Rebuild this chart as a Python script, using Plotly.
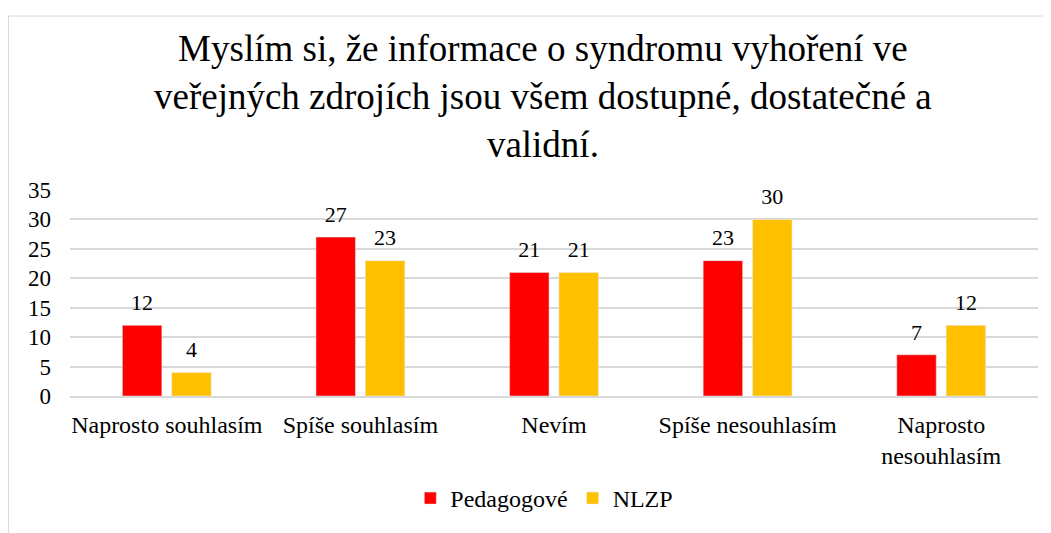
import plotly.graph_objects as go

categories = ["Naprosto souhlasím", "Spíše souhlasím", "Nevím", "Spíše nesouhlasím", "Naprosto<br>nesouhlasím"]
pedagogove = [12, 27, 21, 23, 7]
nlzp = [4, 23, 21, 30, 12]
y_ticks = [0, 5, 10, 15, 20, 25, 30, 35]
title_text = "Myslím si, že informace o syndromu vyhoření ve<br>veřejných zdrojích jsou všem dostupné, dostatečné a<br>validní."

FONT = "Times New Roman"
series = [("Pedagogové", pedagogove, "#FF0000"), ("NLZP", nlzp, "#FFC000")]

fig = go.Figure()
for name, vals, col in series:
    fig.add_trace(go.Bar(name=name, x=categories, y=vals, marker_color=col,
                         offsetgroup=name, showlegend=True))
for name, vals, col in series:
    # value labels: transparent marker pushes the text above the bar top
    fig.add_trace(go.Scatter(x=categories, y=vals, mode="markers+text", text=vals,
                             textposition="top center", offsetgroup=name,
                             marker=dict(size=14, color="rgba(0,0,0,0)"),
                             textfont=dict(family=FONT, size=22, color="#000000"),
                             cliponaxis=False, showlegend=False, hoverinfo="skip"))

# page has an 8px body margin: figure is drawn 8px right/down of the window origin
fig.update_layout(
    width=1043, height=525,
    margin=dict(l=62, r=13, t=182, b=134),
    paper_bgcolor="white", plot_bgcolor="white",
    font=dict(family=FONT, size=24, color="#000000"),
    barmode="group", bargap=0.49, bargroupgap=0.2,
    scattermode="group", scattergap=0.49,
    showlegend=True,
    legend=dict(orientation="h", x=0.49, xanchor="center", y=-0.4976, yanchor="middle",
                font=dict(family=FONT, size=24, color="#000000"), itemwidth=30,
                traceorder="normal"),
    xaxis=dict(showgrid=False, showline=True, linecolor="#D9D9D9", linewidth=1.5,
               ticks="", tickfont=dict(family=FONT, size=24, color="#000000"),
               automargin=False, ticklabelstandoff=6),
    yaxis=dict(range=[0, 35], tickvals=y_ticks, showgrid=True, gridcolor="#D9D9D9",
               gridwidth=1.5, zeroline=False, showline=False, ticks="",
               tickfont=dict(family=FONT, size=23, color="#000000"),
               automargin=False, ticklabelstandoff=18),
    shapes=[dict(type="rect", xref="paper", yref="paper",
                 x0=-0.0635, x1=1.1, y0=-0.7, y1=1.8445,
                 line=dict(color="#D9D9D9", width=1), fillcolor="rgba(0,0,0,0)", layer="below")],
)
fig.add_annotation(text=title_text, xref="paper", yref="paper", x=0.4886, y=1.4545,
                   xanchor="center", yanchor="middle", showarrow=False, align="center",
                   font=dict(family=FONT, size=37, color="#000000"))

fig.write_html("out.html")
